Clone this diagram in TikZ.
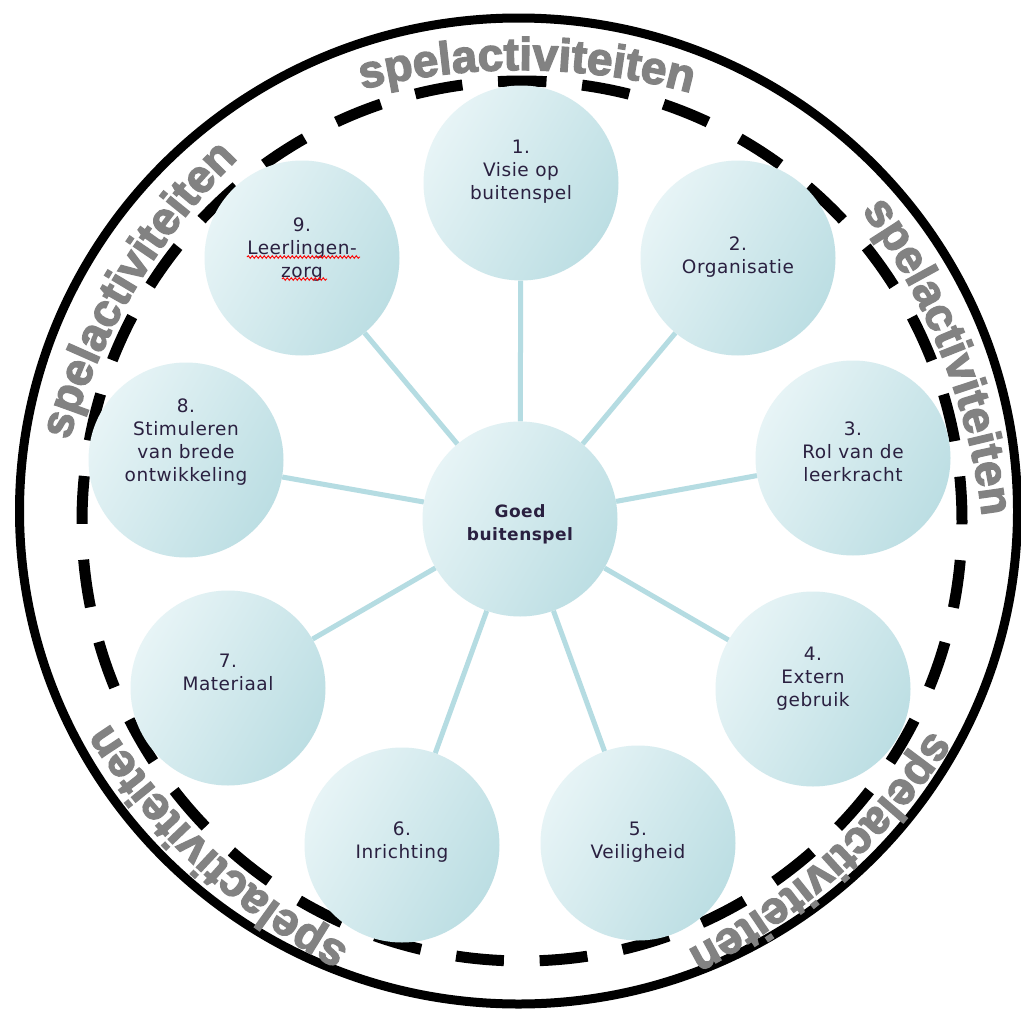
\documentclass[tikz,border=0pt]{standalone}
\usepackage{fontspec}
\usetikzlibrary{decorations.text,decorations.pathmorphing}
\newfontfamily\cfont{DejaVu Sans}[LetterSpace=3]
\newfontfamily\spelfont{Liberation Sans Bold}[FakeBold=3]
\definecolor{circL}{HTML}{E7F4F6}
\definecolor{circR}{HTML}{BCDEE3}
\definecolor{connc}{HTML}{B5DCE2}
\definecolor{txtc}{HTML}{2A2040}
\definecolor{spelgray}{HTML}{828282}
\begin{document}
\begin{tikzpicture}[x=1pt,y=1pt]
\tikzset{
  bubble/.style={circle, minimum size=195, inner sep=0, draw=none,
    left color=circL, right color=circR, shading angle=60},
  lbl/.style={align=center, anchor=north, text=txtc, inner sep=0,
    font=\cfont\fontsize{18.5}{22.8}\selectfont},
  clbl/.style={align=center, anchor=north, text=txtc, inner sep=0,
    font=\cfont\bfseries\fontsize{17}{23}\selectfont},
  conn/.style={draw=connc, line width=5},
  ring/.style={draw=black, line width=9},
  dashring/.style={draw=black, line width=11, dash pattern=on 48 off 35.77},
  spel/.style={decorate, decoration={text along path, text align=center,
    text={|\spelfont\fontsize{46}{46}\selectfont\color{spelgray}|spelactiviteiten}}},
  squiggle/.style={draw=red, line width=0.9, decorate,
    decoration={snake, segment length=4, amplitude=1.3}}
}
% canvas
\fill[white] (0,0) rectangle (1021,-1012);
\useasboundingbox (0,0) rectangle (1021,-1012);

% outer ring
\coordinate (oc) at (518.5,-511);
\draw[ring] (oc) ellipse [x radius=499, y radius=493];

% ring texts (flatter arches than the ring itself)
\coordinate (dc) at (522,-521);
\foreach \a in {89.4, 21.5, -48, -133, 149} {
  \pgfmathsetmacro{\sa}{\a+22}
  \pgfmathsetmacro{\ea}{\a-22}
  \pgfmathsetmacro{\ba}{\a+180}
  \coordinate (tcen) at ([shift={(\ba:199)}]dc);
  \path[spel] ([shift={(\sa:650)}]tcen) arc[start angle=\sa, end angle=\ea, radius=650];
}

% dashed ring
\draw[dashring] ([shift={(86.875:440)}]dc) arc[start angle=86.875, end angle=446.875, radius=440];

% bubbles
\node[bubble] (c)  at (520,-519) {};
\node[bubble] (s1) at (521,-183) {};
\node[bubble] (s2) at (738,-258) {};
\node[bubble] (s3) at (853,-458) {};
\node[bubble] (s4) at (813,-689) {};
\node[bubble] (s5) at (638,-843) {};
\node[bubble] (s6) at (402,-845) {};
\node[bubble] (s7) at (228,-688) {};
\node[bubble] (s8) at (186,-460) {};
\node[bubble] (s9) at (302,-258) {};

% connectors
\foreach \s in {s1,s2,s3,s4,s5,s6,s7,s8,s9} {
  \draw[conn] (c) -- (\s);
}

% labels
\node[clbl] (tc) at (520,-504) {Goed\\buitenspel};
\node[lbl] (t1) at (521,-140) {1.\\Visie op\\buitenspel};
\node[lbl] (t2) at (738,-237) {2.\\Organisatie};
\node[lbl] (t3) at (853,-422) {3.\\Rol van de\\leerkracht};
\node[lbl] (t4) at (813,-647) {4.\\Extern\\gebruik};
\node[lbl] (t5) at (638,-822) {5.\\Veiligheid};
\node[lbl] (t6) at (402,-822) {6.\\Inrichting};
\node[lbl] (t7) at (228,-654) {7.\\Materiaal};
\node[lbl] (t8) at (186,-399) {8.\\Stimuleren\\van brede\\ontwikkeling};
\node[lbl] (t9) at (302,-218) {9.\\Leerlingen-\\zorg};

% spell-check underlines
\draw[squiggle] (247,-257) -- (360,-257);
\draw[squiggle] (282,-279) -- (327,-279);
\end{tikzpicture}
\end{document}
